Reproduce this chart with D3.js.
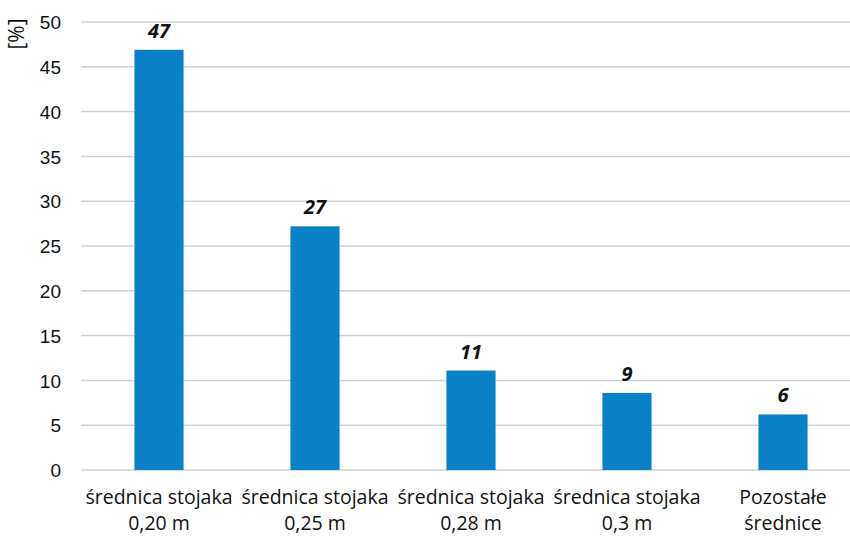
<!DOCTYPE html>
<html lang="pl">
<head>
  <meta charset="UTF-8">
  <title>Średnice stojaka</title>
  <script src="https://d3js.org/d3.v7.min.js"></script>
  <style>
    body { margin: 0; background: #fff; }
    svg { display: block; font-family: "Open Sans", sans-serif; }
    .tick text { font-size: 19px; fill: #111; }
    .cat-label { font-size: 19.5px; fill: #111; }
    .bar-label { font-size: 20px; font-weight: bold; font-style: italic; fill: #111; }
  </style>
</head>
<body>
  <div id="chart"></div>
  <script>
    const categories = [
      ["średnica stojaka", "0,20 m"],
      ["średnica stojaka", "0,25 m"],
      ["średnica stojaka", "0,28 m"],
      ["średnica stojaka", "0,3 m"],
      ["Pozostałe", "średnice"]
    ];
    const values = [46.9, 27.2, 11.1, 8.6, 6.2];
    const yTicks = [0, 5, 10, 15, 20, 25, 30, 35, 40, 45, 50];

    const width = 850, height = 536;
    const margin = { top: 22, left: 81, bottom: 66 };
    const plotRight = 861;

    const svg = d3.select("#chart").append("svg")
      .attr("width", width)
      .attr("height", height);

    const x = d3.scaleBand()
      .domain(d3.range(categories.length))
      .range([margin.left, plotRight])
      .paddingInner(0.685)
      .paddingOuter(0.3425);

    const y = d3.scaleLinear()
      .domain([0, 50])
      .range([height - margin.bottom, margin.top]);

    // gridlines
    svg.append("g")
      .selectAll("line")
      .data(yTicks)
      .join("line")
      .attr("x1", margin.left)
      .attr("x2", plotRight)
      .attr("y1", d => y(d))
      .attr("y2", d => y(d))
      .attr("stroke", "#c9d1d5")
      .attr("stroke-width", 1.5);

    // y axis labels
    const yAxis = svg.append("g")
      .attr("transform", `translate(${margin.left - 20},0)`)
      .call(d3.axisLeft(y).tickValues(yTicks).tickSize(0).tickPadding(0));
    yAxis.select(".domain").remove();
    yAxis.selectAll(".tick text").attr("dy", "0.35em");

    svg.append("text")
      .attr("transform", `translate(24,34) rotate(-90)`)
      .attr("text-anchor", "middle")
      .attr("font-size", 21)
      .attr("fill", "#111")
      .text("[%]");

    // bars
    svg.append("g")
      .selectAll("rect")
      .data(values)
      .join("rect")
      .attr("x", (d, i) => x(i))
      .attr("y", d => y(d))
      .attr("width", x.bandwidth())
      .attr("height", d => y(0) - y(d))
      .attr("fill", "#0a80c6");

    // data labels
    svg.append("g")
      .selectAll("text")
      .data(values)
      .join("text")
      .attr("class", "bar-label")
      .attr("x", (d, i) => x(i) + x.bandwidth() / 2)
      .attr("y", d => y(d) - 12)
      .attr("text-anchor", "middle")
      .text(d => d3.format(".0f")(d));

    // category labels
    const cats = svg.append("g")
      .selectAll("text")
      .data(categories)
      .join("text")
      .attr("class", "cat-label")
      .attr("text-anchor", "middle")
      .attr("x", (d, i) => x(i) + x.bandwidth() / 2)
      .attr("y", 504);
    cats.selectAll("tspan")
      .data(d => d)
      .join("tspan")
      .attr("x", function () { return this.parentNode.getAttribute("x"); })
      .attr("dy", (d, i) => i === 0 ? 0 : 26)
      .text(d => d);
  </script>
</body>
</html>
